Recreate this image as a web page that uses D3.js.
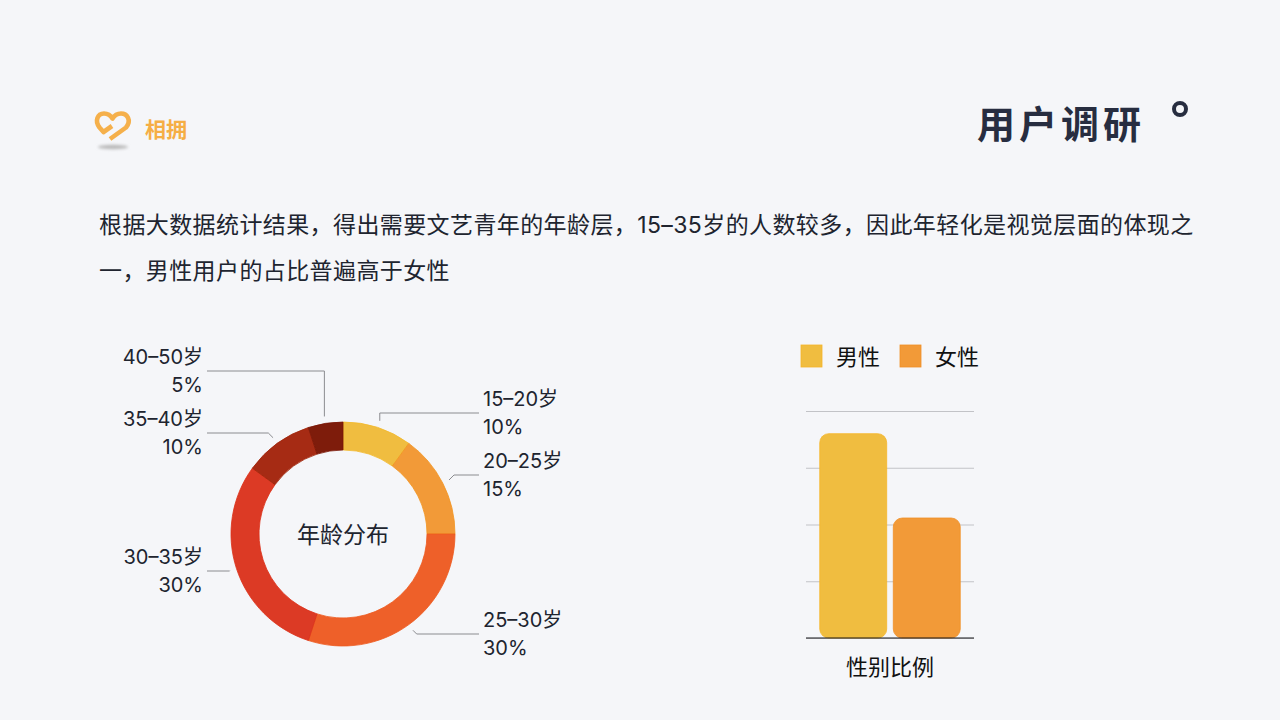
<!DOCTYPE html>
<html lang="zh">
<head>
<meta charset="utf-8">
<title>用户调研</title>
<script src="https://cdn.jsdelivr.net/npm/d3@7/dist/d3.min.js"></script>
<style>
  html, body { margin: 0; padding: 0; background: #f5f6f9; }
  svg { display: block; }
  text { font-family: Inter, "Noto Sans CJK SC", sans-serif; }
</style>
</head>
<body>
<svg id="page" width="1280" height="720"></svg>
<script>
// Age distribution
const ageGroups = ["15–20岁", "20–25岁", "25–30岁", "30–35岁", "35–40岁", "40–50岁"];
const ageShares = [10, 15, 30, 30, 10, 5];
const ageColors = ["#f0bd40", "#f29a38", "#ee6029", "#dc3a25", "#a62b14", "#7e1c0b"];
const ageEdges = ["#f2b92c", "#f2941f", "#ee5a1f", "#dc3018", "#a02409", "#7a1505"];

// Gender split
const genders = ["男性", "女性"];
const genderValues = [63, 37];
const genderColors = ["#f0bd40", "#f29a38"];
const genderEdges = ["#f5b52a", "#f08f26"];
const genderTicks = [0, 17.5, 35, 52.5, 70];

// Copy
const logoName = "相拥";
const pageTitle = "用户调研";
const introLines = [
  "根据大数据统计结果，得出需要文艺青年的年龄层，15–35岁的人数较多，因此年轻化是视觉层面的体现之",
  "一，男性用户的占比普遍高于女性"
];
const donutTitle = "年龄分布";
const barTitle = "性别比例";

const svg = d3.select("#page");
const ink = "#20242f";

svg.append("rect").attr("width", 1280).attr("height", 720).attr("fill", "#f5f6f9");

// ---- header ----
const defs = svg.append("defs");
defs.append("filter").attr("id", "soft")
  .attr("x", "-30%").attr("y", "-100%").attr("width", "160%").attr("height", "300%")
  .append("feGaussianBlur").attr("stdDeviation", 1.6);

svg.append("ellipse").attr("cx", 113).attr("cy", 147).attr("rx", 15).attr("ry", 2.2)
  .attr("fill", "#b9b9b9").attr("filter", "url(#soft)");

svg.append("path")
  .attr("d", "M110 139 L126 127.5 C132 120 127 113.5 121 113.5 C116.5 113.5 114 116 112.5 118.5 C111 116 108 113.5 104 113.5 C97.5 113.5 94.5 121 99.5 127.5 L103.5 132 L112 126")
  .attr("fill", "none")
  .attr("stroke", "#f5b04b")
  .attr("stroke-width", 4.6)
  .attr("stroke-linecap", "butt")
  .attr("stroke-linejoin", "round");

svg.append("text").attr("x", 145).attr("y", 137)
  .attr("font-size", 21).attr("font-weight", 700).attr("fill", "#f5ae45")
  .text(logoName);

svg.append("text").attr("x", 977).attr("y", 138)
  .attr("font-size", 38).attr("font-weight", 700).attr("letter-spacing", 4).attr("fill", "#272d40")
  .text(pageTitle);

svg.append("circle").attr("cx", 1180).attr("cy", 109).attr("r", 6)
  .attr("fill", "none").attr("stroke", "#272d40").attr("stroke-width", 4);

svg.selectAll("text.intro").data(introLines).join("text")
  .attr("class", "intro")
  .attr("x", 99)
  .attr("y", (d, i) => 233 + i * 46)
  .attr("font-size", 23)
  .attr("letter-spacing", 0.4)
  .attr("fill", ink)
  .text(d => d);

// ---- donut ----
const cx = 343, cy = 534;
const outerR = 112, innerR = 84, leaderR = 119;

const pie = d3.pie().sort(null).value(d => d.share);
const arc = d3.arc().innerRadius(innerR).outerRadius(outerR);
const slices = pie(ageGroups.map((group, i) => ({ group, share: ageShares[i], i })));

const donut = svg.append("g").attr("transform", `translate(${cx},${cy})`);
donut.selectAll("path").data(slices).join("path")
  .attr("d", arc)
  .attr("fill", d => ageColors[d.data.i])
  .attr("stroke", d => ageEdges[d.data.i])
  .attr("stroke-width", 0.8);

svg.append("text").attr("x", cx).attr("y", cy + 9)
  .attr("text-anchor", "middle").attr("font-size", 23).attr("fill", ink)
  .text(donutTitle);

// Leader rows: where each callout runs to, relative to the donut centre, and its text side
const callouts = [
  { elbowY: -121, side: "right", square: true },
  { elbowY: -59, side: "right" },
  { elbowY: 100, side: "right" },
  { elbowY: 37, side: "left" },
  { elbowY: -101, side: "left" },
  { elbowY: -163, side: "left", square: true }
];
const rightEnd = 136, leftEnd = -136;

const leaderPoints = (d, i) => {
  const mid = (d.startAngle + d.endAngle) / 2;
  const sx = Math.sin(mid) * leaderR, sy = -Math.cos(mid) * leaderR;
  const c = callouts[i];
  const end = c.side === "right" ? rightEnd : leftEnd;
  const dy = c.elbowY - sy;
  const ex = c.square ? sx : sx + Math.sign(end) * Math.abs(dy);
  return [[sx, sy], [ex, c.elbowY], [end, c.elbowY]];
};

donut.selectAll("path.leader").data(slices).join("path")
  .attr("class", "leader")
  .attr("d", (d, i) => d3.line()(leaderPoints(d, i)))
  .attr("fill", "none")
  .attr("stroke", "#8b8c90")
  .attr("stroke-width", 1);

const labels = svg.append("g").selectAll("text").data(slices).join("text")
  .attr("font-size", 20)
  .attr("fill", ink)
  .attr("text-anchor", (d, i) => callouts[i].side === "right" ? "start" : "end");

labels.each(function (d, i) {
  const c = callouts[i];
  const x = c.side === "right" ? cx + 140 : cx - 140;
  const t = d3.select(this);
  t.append("tspan").attr("x", x).attr("y", cy + c.elbowY - 7).text(d.data.group);
  t.append("tspan").attr("x", x).attr("y", cy + c.elbowY + 21).text(d.data.share + "%");
});

// ---- gender bars ----
const barLeft = 806, barRight = 974, barBase = 638, barTop = 411;

const x = d3.scaleBand().domain(genders).range([barLeft, barRight])
  .paddingInner(0.09).paddingOuter(0.187);
const y = d3.scaleLinear().domain([0, 70]).range([barBase, barTop]);

const yAxis = d3.axisLeft(y).tickValues(genderTicks).tickSize(-(barRight - barLeft)).tickFormat("");
const grid = svg.append("g").attr("transform", `translate(${barLeft},0)`).call(yAxis);
grid.select(".domain").remove();
grid.selectAll(".tick line").attr("stroke", "#c2c3c7").attr("stroke-width", 1);

svg.selectAll("rect.bar").data(genders).join("rect")
  .attr("class", "bar")
  .attr("x", d => x(d))
  .attr("y", (d, i) => y(genderValues[i]))
  .attr("width", x.bandwidth())
  .attr("height", (d, i) => barBase - y(genderValues[i]))
  .attr("rx", 9)
  .attr("fill", (d, i) => genderColors[i])
  .attr("stroke", (d, i) => genderEdges[i])
  .attr("stroke-width", 0.8);

const xAxis = d3.axisBottom(x).tickSize(0).tickFormat("");
const base = svg.append("g").attr("transform", `translate(0,${barBase})`).call(xAxis);
base.select(".domain").attr("d", `M${barLeft},0H${barRight}`).attr("stroke", "#16161a").attr("stroke-width", 1.2);

svg.append("text").attr("x", 890).attr("y", 675)
  .attr("text-anchor", "middle").attr("font-size", 22).attr("fill", "#111")
  .text(barTitle);

// legend
const legendX = d3.scaleOrdinal().domain(genders).range([801, 900]);
const legend = svg.selectAll("g.legend").data(genders).join("g")
  .attr("class", "legend")
  .attr("transform", d => `translate(${legendX(d)},345)`);
legend.append("rect").attr("width", 21).attr("height", 22)
  .attr("fill", (d, i) => genderColors[i])
  .attr("stroke", (d, i) => genderEdges[i]).attr("stroke-width", 0.8);
legend.append("text").attr("x", 35).attr("y", 20)
  .attr("font-size", 22).attr("fill", "#111")
  .text(d => d);
</script>
</body>
</html>
